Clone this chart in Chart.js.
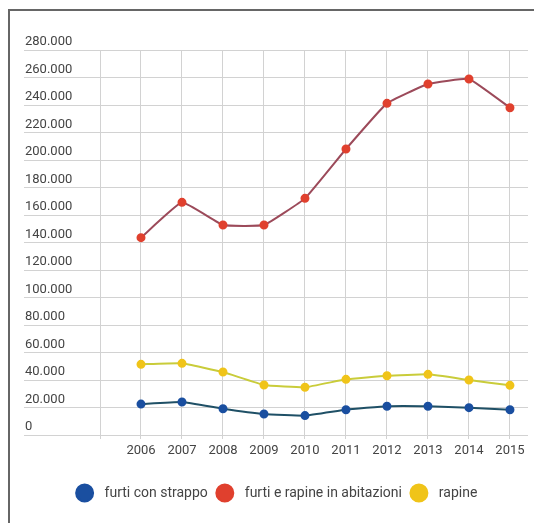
<!DOCTYPE html>
<html lang="it">
<head>
<meta charset="utf-8">
<title>Furti e rapine 2006-2015</title>
<script src="https://cdn.jsdelivr.net/npm/chart.js@4.4.1/dist/chart.umd.min.js"></script>
<style>
  html, body { margin: 0; padding: 0; background: #fff; }
  #wrap { position: relative; width: 534px; height: 523px; overflow: hidden; }
  #frame { position: absolute; left: 8px; top: 9px; right: -10px; bottom: -10px;
           border-top: 2px solid #666; border-left: 2px solid #666; }
  #chart { position: absolute; left: 0; top: 0; }
</style>
</head>
<body>
<div id="wrap">
  <div id="frame"></div>
  <canvas id="chart" width="534" height="523"></canvas>
</div>
<script>
// anni e valori delle tre serie
var anni = [2006, 2007, 2008, 2009, 2010, 2011, 2012, 2013, 2014, 2015];
var furtiStrappo = [22500, 24000, 19100, 15300, 14100, 18400, 20900, 20900, 19900, 18400];
var furtiRapineAbitazioni = [143500, 169200, 152700, 152700, 172100, 208000, 241200, 255300, 258900, 238000];
var rapine = [51400, 52100, 45800, 36400, 34700, 40500, 43100, 44100, 40000, 36100];

var nomiSerie = ['furti con strappo', 'furti e rapine in abitazioni', 'rapine'];

var gridColor = '#d2d2d2';
var textColor = '#444';

// 280000 -> "280.000"
function formatta(v) {
    return String(v).replace(/\B(?=(\d{3})+(?!\d))/g, '.');
}

function punti(valori) {
    return anni.map(function (a, i) { return { x: a, y: valori[i] }; });
}

function serie(label, valori, colorePunto, coloreLinea) {
    return {
        label: label,
        data: punti(valori),
        borderColor: coloreLinea,
        backgroundColor: colorePunto,
        pointBackgroundColor: colorePunto,
        pointBorderColor: colorePunto,
        pointRadius: 3.5,
        borderWidth: 2,
        tension: 0.1
    };
}

var ctx = document.getElementById('chart').getContext('2d');

var myChart = new Chart(ctx, {
    type: 'line',
    data: {
        datasets: [
            serie(nomiSerie[0], furtiStrappo, '#1a4fa0', '#1f5066'),
            serie(nomiSerie[1], furtiRapineAbitazioni, '#e0402e', '#9c4a5a'),
            serie(nomiSerie[2], rapine, '#f0c419', '#c9cc3a')
        ]
    },
    options: {
        responsive: false,
        animation: false,
        layout: { padding: { left: 25, top: 50, right: 3, bottom: 13 } },
        plugins: {
            tooltip: { enabled: false },
            legend: {
                position: 'bottom',
                labels: {
                    usePointStyle: true,
                    pointStyle: 'circle',
                    boxWidth: 12,
                    boxHeight: 12,
                    padding: 11,
                    color: textColor,
                    font: { family: 'Roboto', size: 14 },
                    // un po' di spazio tra il pallino e il testo
                    generateLabels: function (chart) {
                        var items = Chart.defaults.plugins.legend.labels.generateLabels(chart);
                        items.forEach(function (it) { it.text = '  ' + it.text; });
                        return items;
                    }
                }
            }
        },
        scales: {
            x: {
                type: 'linear',
                min: 2005,
                max: 2015.44,
                afterBuildTicks: function (scale) {
                    // una colonna vuota prima del 2006, poi un tick per anno
                    scale.ticks = [2005].concat(anni).map(function (a) { return { value: a }; });
                },
                afterFit: function (scale) { scale.height = 40; },
                ticks: {
                    padding: 4,
                    color: textColor,
                    font: { family: 'Roboto', size: 13 },
                    callback: function (v) { return v === 2005 ? '' : String(v); }
                },
                grid: { color: gridColor, tickLength: 4 },
                border: { display: false }
            },
            y: {
                min: 0,
                max: 280000,
                afterFit: function (scale) { scale.width = 75; },
                ticks: {
                    stepSize: 20000,
                    crossAlign: 'far',
                    labelOffset: -8,
                    color: textColor,
                    font: { family: 'Roboto', size: 13 },
                    callback: function (v) { return formatta(v); }
                },
                grid: { color: gridColor, tickLength: 76 },
                border: { color: gridColor }
            }
        }
    }
});
</script>
</body>
</html>
